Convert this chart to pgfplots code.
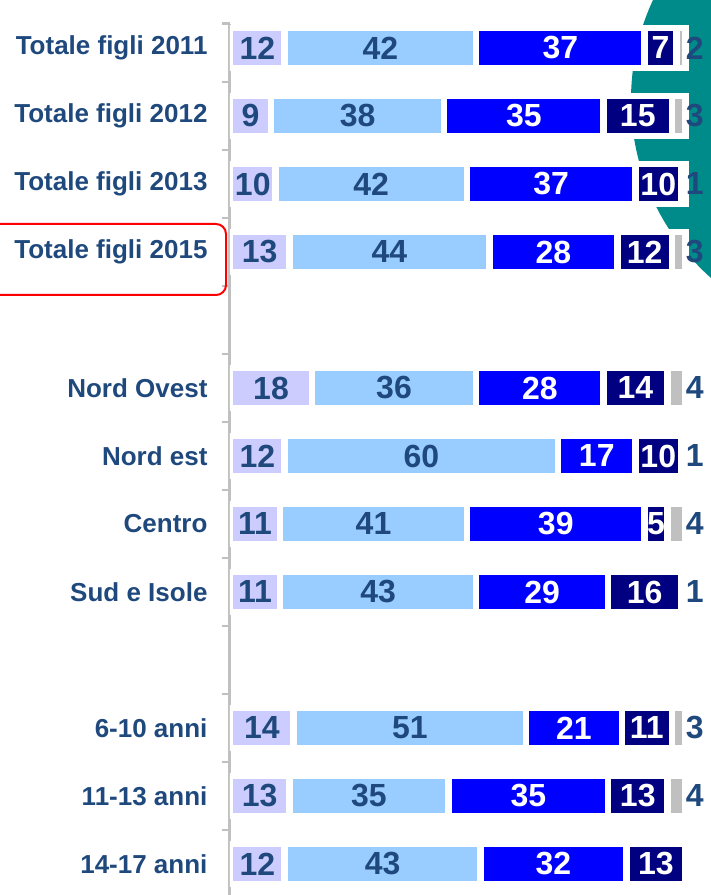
\documentclass[border=0pt]{standalone}
\usepackage{fontspec}
\setmainfont{Liberation Sans}
\usepackage{pgfplots}
\pgfplotsset{compat=1.18}
\usepackage{pgfplotstable}

\definecolor{lav}{HTML}{CCCCFF}
\definecolor{lblue}{HTML}{99CCFF}
\definecolor{vblue}{HTML}{0000FF}
\definecolor{navy}{HTML}{000080}
\definecolor{lgray}{HTML}{C0C0C0}
\definecolor{txt}{HTML}{1F497D}
\definecolor{tealc}{HTML}{008B8B}

% y = row index from the top (4 and 9 are empty rows)
\pgfplotstableread{
y  a  b  c  d  e  el
0  12 42 37 7  2  2
1  9  38 35 15 3  3
2  10 42 37 10 1  1
3  13 44 28 12 3  3
5  18 36 28 14 4  4
6  12 60 17 10 1  1
7  11 41 39 5  4  4
8  11 43 29 16 1  1
10 14 51 21 11 3  3
11 13 35 35 13 4  4
12 12 43 32 13 0  {}
}\shares
% label positions: middle of each segment
\pgfplotstablecreatecol[create col/expr={\thisrow{a}/2}]{ma}\shares
\pgfplotstablecreatecol[create col/expr={\thisrow{a}+\thisrow{b}/2}]{mb}\shares
\pgfplotstablecreatecol[create col/expr={\thisrow{a}+\thisrow{b}+\thisrow{c}/2}]{mc}\shares
\pgfplotstablecreatecol[create col/expr={\thisrow{a}+\thisrow{b}+\thisrow{c}+\thisrow{d}/2}]{md}\shares
\pgfplotstablecreatecol[create col/expr={\thisrow{a}+\thisrow{b}+\thisrow{c}+\thisrow{d}+\thisrow{e}}]{me}\shares

\pgfplotsset{
  frame/.style={at={(230pt,871.5pt)}, anchor=north west,
    x=4.556pt, y=68pt, y dir=reverse,
    xmin=0, xmax=105.6, ymin=-0.36, ymax=12.456},
  seg/.style={draw=white, line width=6.6pt},
  lab/.style={only marks, mark=none, nodes near coords, point meta=explicit symbolic,
    every node near coord/.append style={anchor=center, text=#1,
      font=\fontsize{32}{32}\selectfont\bfseries}},
}

\begin{document}
\begin{tikzpicture}
\useasboundingbox (0,0) rectangle (711pt,895pt);
\clip (0,0) rectangle (711pt,895pt);

% background decoration
\fill[tealc] (869pt,795pt) circle (238pt);
\foreach \r in {0,1,2,3}
  \fill[white, rounded corners=3pt] (232pt,{(895-48-68*\r-22.5)*1pt}) rectangle (688pt,{(895-48-68*\r+22.5)*1pt});

\begin{axis}[
  frame,
  xbar stacked, bar width=40pt,
  axis x line=none, axis y line*=left,
  y axis line style={draw=lgray, line width=3pt, -},
  ytick={0,1,2,3,5,6,7,8,10,11,12},
  yticklabels={Totale figli 2011,Totale figli 2012,Totale figli 2013,Totale figli 2015,Nord Ovest,Nord est,Centro,Sud e Isole,6-10 anni,11-13 anni,14-17 anni},
  major tick length=0pt,
  minor ytick={-0.36,0.5,1.5,...,12.5},
  minor tick length=8pt, tick align=outside,
  minor tick style={draw=lgray, line width=2.5pt},
  yticklabel style={font=\fontsize{26}{26}\selectfont\bfseries, text=txt, xshift=-19pt},
]
\addplot[seg, fill=lav] table[x=a, y=y] {\shares};
\addplot[seg, fill=lblue] table[x=b, y=y] {\shares};
\addplot[seg, fill=vblue] table[x=c, y=y] {\shares};
\addplot[seg, fill=navy] table[x=d, y=y] {\shares};
\addplot[seg, fill=lgray] table[x=e, y=y] {\shares};
\end{axis}

\begin{axis}[frame, hide axis, clip=false]
\addplot[lab=txt] table[x=ma, y=y, meta=a] {\shares};
\addplot[lab=txt] table[x=mb, y=y, meta=b] {\shares};
\addplot[lab=white] table[x=mc, y=y, meta=c] {\shares};
\addplot[lab=white] table[x=md, y=y, meta=d] {\shares};
\addplot[lab=txt, every node near coord/.append style={anchor=west, inner sep=0pt, xshift=0pt}] table[x=me, y=y, meta=el] {\shares};
\end{axis}

\draw[red, line width=2pt, rounded corners=10pt] (-10pt,600pt) rectangle (226pt,671pt);
\end{tikzpicture}
\end{document}
